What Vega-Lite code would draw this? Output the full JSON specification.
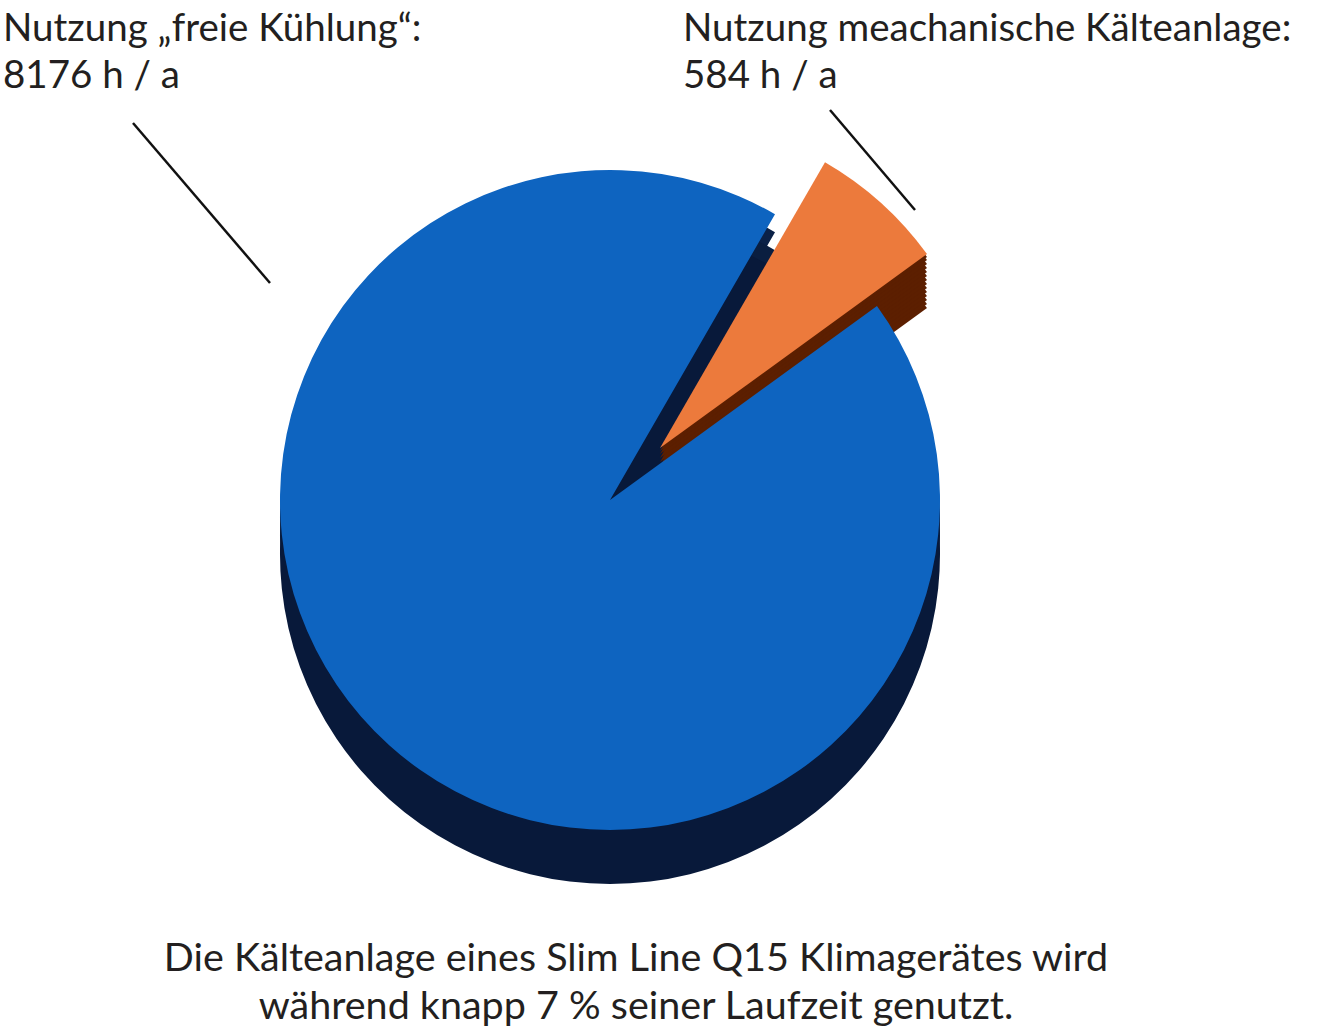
{
  "$schema": "https://vega.github.io/schema/vega-lite/v6.json",
  "width": 1320,
  "height": 1032,
  "autosize": {"type": "fit", "contains": "padding"},
  "padding": 0,
  "background": "white",
  "config": {"view": {"stroke": null}, "font": "Lato"},
  "datasets": {
    "laufzeit": [
      {"nutzung": "mechanische Kälteanlage", "stunden": 584},
      {"nutzung": "freie Kühlung", "stunden": 8176}
    ],
    "beschriftung": [
      {"text": "Nutzung „freie Kühlung“:\n8176 h / a", "px": 3, "py": 41},
      {"text": "Nutzung meachanische Kälteanlage:\n584 h / a", "px": 683, "py": 41}
    ],
    "fuehrung": [
      {"x1": 133, "y1": 123, "x2": 270, "y2": 283},
      {"x1": 830, "y1": 110, "x2": 915, "y2": 210}
    ],
    "fusszeile": [
      {"text": "Die Kälteanlage eines Slim Line Q15 Klimagerätes wird\nwährend knapp 7 % seiner Laufzeit genutzt.", "px": 636, "py": 971}
    ]
  },
  "layer": [
    {
      "data": {"name": "laufzeit"},
      "layer": [
        {"mark": {"type": "arc", "radius": 330, "xOffset": -50, "yOffset": 2, "color": "#0b2147"}},
        {"mark": {"type": "arc", "radius": 330, "xOffset": -50, "yOffset": 20, "color": "#0a1e40"}},
        {"mark": {"type": "arc", "radius": 330, "xOffset": -50, "yOffset": 38, "color": "#08193a"}}
      ],
      "encoding": {
        "theta": {"field": "stunden", "type": "quantitative", "stack": true, "scale": {"range": [0.5236, 6.8068]}},
        "order": {"field": "stunden", "sort": "ascending"},
        "opacity": {"condition": {"test": "datum.nutzung === 'freie Kühlung'", "value": 1}, "value": 0}
      }
    },
    {
      "data": {"name": "laufzeit"},
      "layer": [
        {"mark": {"type": "arc", "radius": 330, "xOffset": 0, "yOffset": -14, "color": "#5c1f00"}},
        {"mark": {"type": "arc", "radius": 330, "xOffset": 0, "yOffset": -18, "color": "#5c1f00"}},
        {"mark": {"type": "arc", "radius": 330, "xOffset": 0, "yOffset": -22, "color": "#5c1f00"}},
        {"mark": {"type": "arc", "radius": 330, "xOffset": 0, "yOffset": -26, "color": "#5c1f00"}},
        {"mark": {"type": "arc", "radius": 330, "xOffset": 0, "yOffset": -30, "color": "#5c1f00"}},
        {"mark": {"type": "arc", "radius": 330, "xOffset": 0, "yOffset": -34, "color": "#5c1f00"}},
        {"mark": {"type": "arc", "radius": 330, "xOffset": 0, "yOffset": -38, "color": "#5c1f00"}},
        {"mark": {"type": "arc", "radius": 330, "xOffset": 0, "yOffset": -42, "color": "#5c1f00"}},
        {"mark": {"type": "arc", "radius": 330, "xOffset": 0, "yOffset": -46, "color": "#5c1f00"}},
        {"mark": {"type": "arc", "radius": 330, "xOffset": 0, "yOffset": -50, "color": "#5c1f00"}},
        {"mark": {"type": "arc", "radius": 330, "xOffset": 0, "yOffset": -54, "color": "#5c1f00"}},
        {"mark": {"type": "arc", "radius": 330, "xOffset": 0, "yOffset": -58, "color": "#5c1f00"}},
        {"mark": {"type": "arc", "radius": 330, "xOffset": 0, "yOffset": -62, "color": "#5c1f00"}},
        {"mark": {"type": "arc", "radius": 330, "xOffset": 0, "yOffset": -65, "color": "#5c1f00"}},
        {"mark": {"type": "arc", "radius": 330, "xOffset": 0, "yOffset": -68, "color": "#ec7a3c"}}
      ],
      "encoding": {
        "theta": {"field": "stunden", "type": "quantitative", "stack": true, "scale": {"range": [0.5236, 6.8068]}},
        "order": {"field": "stunden", "sort": "ascending"},
        "opacity": {"condition": {"test": "datum.nutzung === 'mechanische Kälteanlage'", "value": 1}, "value": 0}
      }
    },
    {
      "data": {"name": "laufzeit"},
      "mark": {"type": "arc", "radius": 330, "xOffset": -50, "yOffset": -16, "color": "#0e64c0"},
      "encoding": {
        "theta": {"field": "stunden", "type": "quantitative", "stack": true, "scale": {"range": [0.5236, 6.8068]}},
        "order": {"field": "stunden", "sort": "ascending"},
        "opacity": {"condition": {"test": "datum.nutzung === 'freie Kühlung'", "value": 1}, "value": 0}
      }
    },
    {
      "data": {"name": "fuehrung"},
      "mark": {"type": "rule", "color": "#111111", "strokeWidth": 2.5},
      "encoding": {
        "x": {"field": "x1", "type": "quantitative", "scale": {"domain": [0, 1320], "nice": false, "zero": false}, "axis": null},
        "y": {"field": "y1", "type": "quantitative", "scale": {"domain": [0, 1032], "nice": false, "zero": false, "reverse": true}, "axis": null},
        "x2": {"field": "x2"},
        "y2": {"field": "y2"}
      }
    },
    {
      "data": {"name": "beschriftung"},
      "mark": {"type": "text", "align": "left", "baseline": "alphabetic", "fontSize": 38.5, "lineHeight": 47, "lineBreak": "\n", "color": "#231f20"},
      "encoding": {
        "x": {"field": "px", "type": "quantitative", "scale": {"domain": [0, 1320], "nice": false, "zero": false}, "axis": null},
        "y": {"field": "py", "type": "quantitative", "scale": {"domain": [0, 1032], "nice": false, "zero": false, "reverse": true}, "axis": null},
        "text": {"field": "text"}
      }
    },
    {
      "data": {"name": "fusszeile"},
      "mark": {"type": "text", "align": "center", "baseline": "alphabetic", "fontSize": 39.5, "lineHeight": 48, "lineBreak": "\n", "color": "#231f20"},
      "encoding": {
        "x": {"field": "px", "type": "quantitative", "scale": {"domain": [0, 1320], "nice": false, "zero": false}, "axis": null},
        "y": {"field": "py", "type": "quantitative", "scale": {"domain": [0, 1032], "nice": false, "zero": false, "reverse": true}, "axis": null},
        "text": {"field": "text"}
      }
    }
  ]
}
